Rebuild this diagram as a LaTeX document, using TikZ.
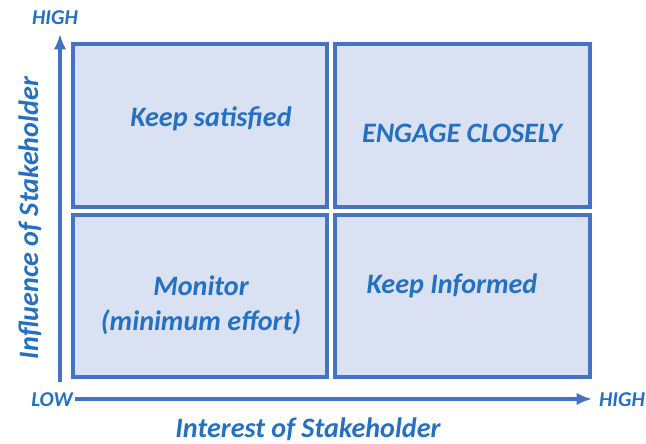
\documentclass[tikz,border=0pt]{standalone}
\usepackage{fontspec}
\setmainfont{Carlito}
\usepackage{tikz}
\usetikzlibrary{arrows.meta}
\definecolor{gridline}{HTML}{4472C4}
\definecolor{gridfill}{HTML}{D9E1F2}
\definecolor{labelblue}{HTML}{2370C4}
\tikzset{>={Latex[length=11pt,width=9pt]}}
\tikzset{
  quad/.style={draw=gridline, fill=gridfill, line width=2.2pt},
  quadtext/.style={text=labelblue, font=\fontsize{20}{25}\selectfont\bfseries\itshape, align=center},
  axistext/.style={text=labelblue, font=\fontsize{20}{24}\selectfont\bfseries\itshape},
  endtext/.style={text=labelblue, font=\fontsize{15}{18}\selectfont\bfseries\itshape},
  axis/.style={draw=gridline, line width=2.8pt, ->}
}

\begin{document}
\begin{tikzpicture}[x={(0.025cm,0)}, y={(0,-0.025cm)}]
                \useasboundingbox (0,0) rectangle (646,444);
                % the four quadrants
                \draw[quad] (73,44) rectangle (327,207);
                \draw[quad] (335,44) rectangle (590,207);
                \draw[quad] (73,215) rectangle (327,377);
                \draw[quad] (335,215) rectangle (590,377);
                \node[quadtext] (sat) at (211,119) {Keep satisfied};
                \node[quadtext] (eng) at (462,133) {ENGAGE CLOSELY};
                \node[quadtext] (mon) at (201,305) {Monitor\\(minimum effort)};
                \node[quadtext] (inf) at (452,286) {Keep Informed};
                % axes
                \coordinate (origin) at (60,382);
                \coordinate (ytop) at (60,34);
                \coordinate (xstart) at (75,399);
                \coordinate (xend) at (592,399);
                \draw[axis] (origin) -- (ytop);
                \draw[axis] (xstart) -- (xend);
                \node[endtext] (yhigh) at (55,18) {HIGH};
                \node[endtext] (low) at (52,400) {LOW};
                \node[endtext] (xhigh) at (622,400) {HIGH};
                \node[axistext] (xlab) at (308,429) {Interest of Stakeholder};
                \node[axistext, rotate=90] (ylab) at (30,218) {Influence of Stakeholder};
            \end{tikzpicture}
\end{document}
